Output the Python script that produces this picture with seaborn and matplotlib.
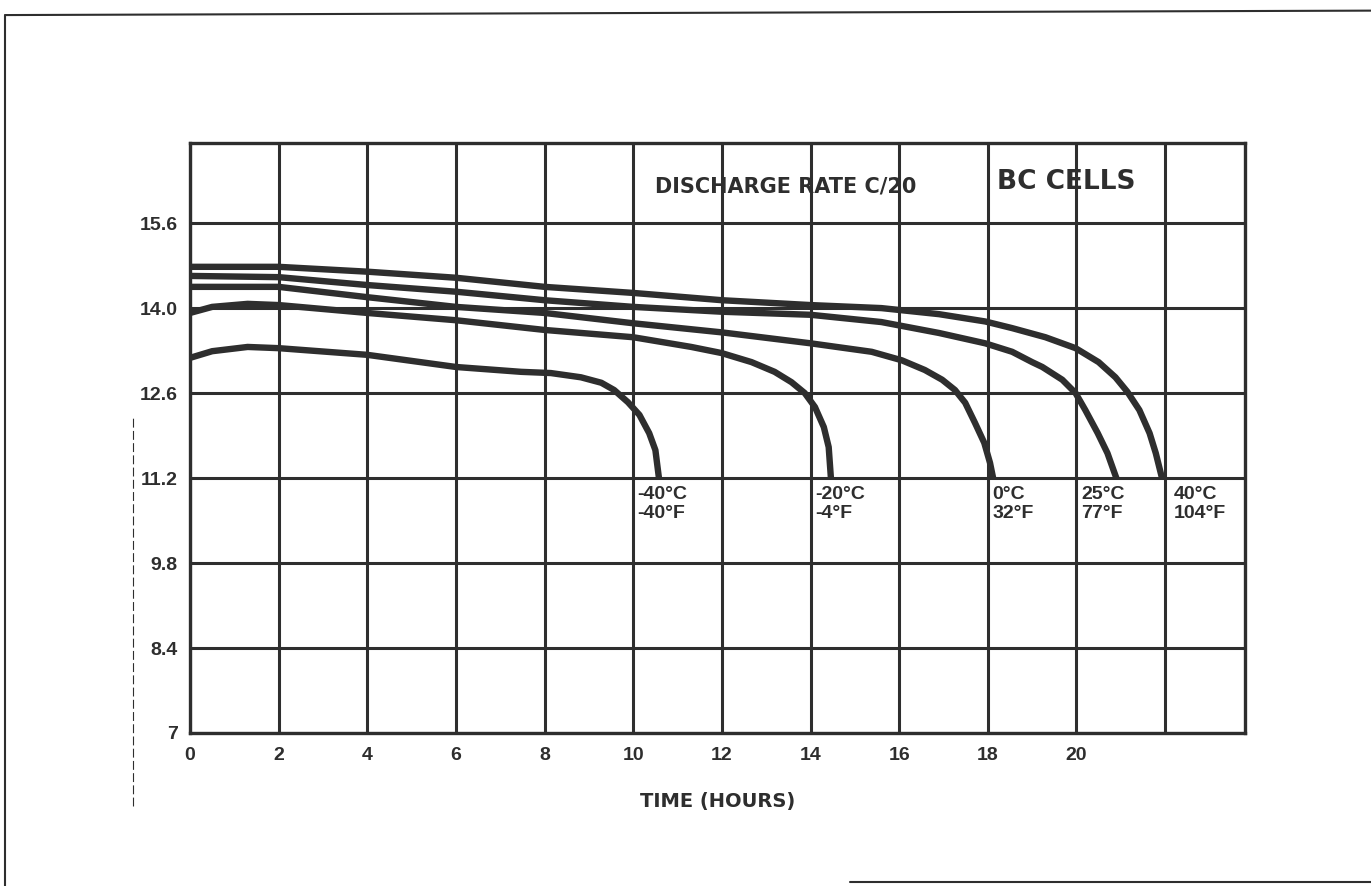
import pandas as pd
import seaborn as sns
import matplotlib.pyplot as plt
from matplotlib.lines import Line2D

# discharge curves (hours, volts)
hours_40c = [0, 2, 4, 6, 8, 10, 12, 14, 15.6, 16.9, 17.94, 18.55, 19.3, 19.98,
             20.5, 20.88, 21.15, 21.42, 21.65, 21.79, 21.93]
volts_40c = [14.68, 14.68, 14.6, 14.5, 14.35, 14.25, 14.13, 14.05, 14.0, 13.9, 13.78, 13.67,
             13.52, 13.34, 13.11, 12.86, 12.62, 12.32, 11.94, 11.61, 11.2]

hours_25c = [0, 2, 4, 6, 8, 10, 12, 14, 15.6, 16.9, 17.94, 18.55, 19.0, 19.23, 19.68,
             19.98, 20.2, 20.48, 20.7, 20.9]
volts_25c = [14.53, 14.51, 14.38, 14.27, 14.13, 14.02, 13.94, 13.89, 13.77, 13.59, 13.42,
             13.28, 13.11, 13.03, 12.82, 12.6, 12.32, 11.94, 11.61, 11.2]

hours_0c = [0, 2, 4, 6, 8, 10, 12, 14, 15.38, 16.06, 16.58, 16.97, 17.26, 17.49,
            17.71, 17.92, 18.05, 18.12]
volts_0c = [14.35, 14.35, 14.18, 14.02, 13.92, 13.75, 13.6, 13.42, 13.28, 13.14, 12.98,
            12.82, 12.65, 12.44, 12.11, 11.78, 11.45, 11.2]

hours_m20c = [0, 0.5, 1.3, 2, 4, 6, 8, 10, 11.31, 11.99, 12.67, 13.19, 13.57, 13.87,
              14.1, 14.3, 14.41, 14.46]
volts_m20c = [13.92, 14.02, 14.07, 14.05, 13.92, 13.8, 13.64, 13.52, 13.36, 13.26, 13.11,
              12.95, 12.78, 12.6, 12.37, 12.04, 11.71, 11.2]

hours_m40c = [0, 0.5, 1.3, 2, 4, 6, 7.47, 8.14, 8.82, 9.28, 9.57, 9.88, 10.14, 10.36,
              10.5, 10.58]
volts_m40c = [13.18, 13.29, 13.36, 13.34, 13.23, 13.03, 12.95, 12.93, 12.86, 12.77, 12.65,
              12.45, 12.24, 11.94, 11.66, 11.2]

curve_labels = ["40°C\n104°F", "25°C\n77°F", "0°C\n32°F", "-20°C\n-4°F", "-40°C\n-40°F"]
label_hours = [22.2, 20.1, 18.1, 14.1, 10.1]

y_ticks = [7, 8.4, 9.8, 11.2, 12.6, 14.0, 15.4]
y_tick_labels = ["7", "8.4", "9.8", "11.2", "12.6", "14.0", "15.6"]
x_ticks = [0, 2, 4, 6, 8, 10, 12, 14, 16, 18, 20, 22]
x_tick_labels = ["0", "2", "4", "6", "8", "10", "12", "14", "16", "18", "20", ""]

ink = "#2e2e2e"

sns.set_theme(style="white")
plt.rcParams['font.family'] = ['Liberation Sans', 'DejaVu Sans']
plt.rcParams['font.weight'] = 'bold'

fig = plt.figure(figsize=(13.71, 8.86), dpi=100)
ax = fig.add_axes([0.1386, 0.1727, 0.908 - 0.1386, 0.8386 - 0.1727])

series = [(hours_40c, volts_40c), (hours_25c, volts_25c), (hours_0c, volts_0c),
          (hours_m20c, volts_m20c), (hours_m40c, volts_m40c)]
frames = []
for name, (h, v) in zip(curve_labels, series):
    frames.append(pd.DataFrame({"hours": h, "volts": v, "temp": name}))
df = pd.concat(frames, ignore_index=True)

sns.lineplot(data=df, x="hours", y="volts", units="temp", estimator=None, sort=False,
             color=ink, linewidth=4.6, ax=ax, legend=False)
for line in ax.get_lines():
    line.set_solid_capstyle("butt")
    line.set_solid_joinstyle("round")

ax.set_xlim(0, 23.8)
ax.set_ylim(7, 16.72)
ax.set_xticks(x_ticks)
ax.set_xticklabels(x_tick_labels)
ax.set_yticks(y_ticks)
ax.set_yticklabels(y_tick_labels)
ax.tick_params(length=0, labelsize=14, colors=ink)
ax.tick_params(axis="y", pad=9)
ax.tick_params(axis="x", pad=10)
for lab in ax.get_xticklabels() + ax.get_yticklabels():
    lab.set_fontweight("bold")
ax.grid(True, color=ink, linewidth=2.2)
ax.set_axisbelow(True)
for s in ax.spines.values():
    s.set_color(ink)
    s.set_linewidth(2.4)

ax.set_xlabel("TIME (HOURS)", fontsize=14, fontweight="bold", color=ink,
              family=["DejaVu Sans"])
ax.xaxis.set_label_coords(0.5, -0.1)
ax.set_ylabel("")

for txt, hx in zip(curve_labels, label_hours):
    ax.text(hx, 11.07, txt, ha="left", va="top", fontsize=14, fontweight="bold",
            color=ink, linespacing=1.15)

ax.text(10.5, 16.01, "DISCHARGE RATE C/20", ha="left", va="center", fontsize=15,
        fontweight="bold", color=ink, family=["DejaVu Sans"])
ax.text(18.2, 16.08, "BC CELLS", ha="left", va="center", fontsize=19,
        fontweight="bold", color=ink, family=["DejaVu Sans"])

# page frame from the scan
fig.add_artist(Line2D([0.004, 0.004], [0.0, 0.983], color=ink, linewidth=1.5))
fig.add_artist(Line2D([0.004, 1.0], [0.983, 0.988], color=ink, linewidth=1.5))
fig.add_artist(Line2D([0.62, 1.0], [0.004, 0.004], color=ink, linewidth=1.5))
fig.add_artist(Line2D([0.097, 0.097], [0.09, 0.53], color=ink, linewidth=0.8,
                      linestyle=(0, (8, 3))))

fig.savefig("out.png", dpi=100)
